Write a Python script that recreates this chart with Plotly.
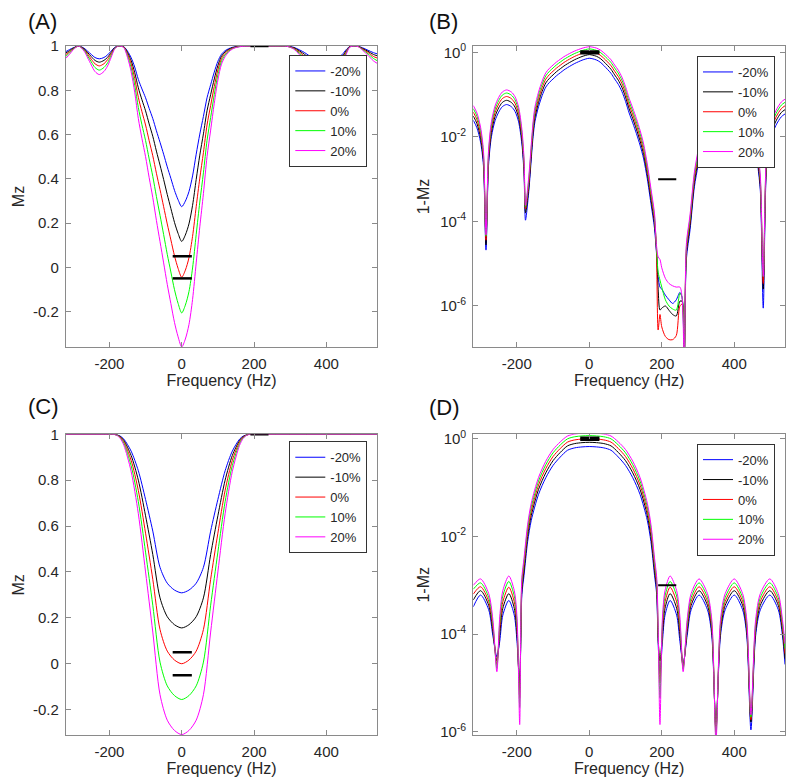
import plotly.graph_objects as go

# ---------------- shared ----------------
series_labels = ["-20%", "-10%", "0%", "10%", "20%"]
series_colors = ["#0000ff", "#000000", "#ff0000", "#00ff00", "#ff00ff"]
x_ticks = [-200, 0, 200, 400]
x_tick_text = ["-200", "0", "200", "400"]
mz_ticks = [-0.2, 0, 0.2, 0.4, 0.6, 0.8, 1]
mz_tick_text = ["-0.2", "0", "0.2", "0.4", "0.6", "0.8", "1"]
log_ticks = [1, 1e-2, 1e-4, 1e-6]
log_tick_text = ["10<sup>0</sup>", "10<sup>-2</sup>", "10<sup>-4</sup>", "10<sup>-6</sup>"]

# ---------------- Panel A : Mz ----------------
freq_a = [-320, -310, -300, -285, -270, -260, -250, -240, -228, -215,
          -205, -195, -186, -176, -168, -160, -150, -140, -130, -120,
          -110, -100, -90, -80, -70, -60, -50, -40, -30, -20,
          -10, 0, 10, 20, 30, 40, 50, 60, 70, 80,
          90, 100, 110, 120, 130, 140, 150, 170, 200, 262,
          290, 310, 340, 360, 385, 410, 430, 443, 455, 465,
          480, 489, 500, 515, 530, 540]
mz_a_m20 = [0.975, 0.984, 0.992, 1.0, 0.990, 0.976, 0.962, 0.948, 0.942, 0.948,
            0.960, 0.977, 0.993, 1.0, 1.0, 0.997, 0.977, 0.948, 0.905, 0.849,
            0.806, 0.766, 0.718, 0.672, 0.617, 0.565, 0.511, 0.454, 0.402, 0.348,
            0.305, 0.274, 0.299, 0.342, 0.413, 0.511, 0.602, 0.682, 0.766, 0.825,
            0.882, 0.931, 0.963, 0.979, 0.988, 0.994, 0.997, 1.0, 1.0, 1.0,
            0.999, 0.994, 0.970, 0.948, 0.931, 0.931, 0.944, 0.960, 0.984, 0.998,
            1.0, 0.998, 0.992, 0.981, 0.970, 0.965]
mz_a_m10 = [0.969, 0.979, 0.990, 1.0, 0.987, 0.970, 0.952, 0.935, 0.927, 0.935,
            0.949, 0.971, 0.991, 1.0, 0.999, 0.996, 0.971, 0.935, 0.880, 0.811,
            0.757, 0.707, 0.648, 0.592, 0.525, 0.462, 0.397, 0.329, 0.266, 0.203,
            0.153, 0.117, 0.146, 0.196, 0.280, 0.397, 0.507, 0.603, 0.707, 0.780,
            0.851, 0.912, 0.954, 0.973, 0.985, 0.992, 0.996, 1.0, 1.0, 1.0,
            0.999, 0.992, 0.962, 0.935, 0.912, 0.912, 0.929, 0.949, 0.979, 0.997,
            1.0, 0.998, 0.989, 0.976, 0.962, 0.956]
mz_a_0 = [0.962, 0.974, 0.988, 1.0, 0.984, 0.963, 0.940, 0.920, 0.910, 0.920,
          0.938, 0.965, 0.989, 1.0, 0.999, 0.995, 0.965, 0.920, 0.853, 0.768,
          0.703, 0.643, 0.572, 0.504, 0.425, 0.351, 0.274, 0.196, 0.124, 0.052,
          -0.005, -0.045, -0.013, 0.043, 0.140, 0.274, 0.403, 0.518, 0.643, 0.731,
          0.817, 0.892, 0.943, 0.967, 0.981, 0.990, 0.995, 1.0, 1.0, 1.0,
          0.999, 0.990, 0.953, 0.920, 0.892, 0.892, 0.913, 0.938, 0.974, 0.997,
          1.0, 0.997, 0.987, 0.971, 0.953, 0.946]
mz_a_p10 = [0.954, 0.969, 0.986, 1.0, 0.981, 0.955, 0.928, 0.903, 0.891, 0.903,
            0.924, 0.957, 0.987, 1.0, 0.999, 0.994, 0.957, 0.903, 0.823, 0.722,
            0.644, 0.573, 0.490, 0.411, 0.320, 0.235, 0.148, 0.059, -0.021, -0.101,
            -0.163, -0.206, -0.171, -0.110, -0.003, 0.148, 0.295, 0.427, 0.573, 0.677,
            0.780, 0.870, 0.931, 0.960, 0.977, 0.988, 0.994, 1.0, 1.0, 1.0,
            0.999, 0.988, 0.944, 0.903, 0.870, 0.870, 0.895, 0.924, 0.969, 0.996,
            1.0, 0.997, 0.984, 0.965, 0.944, 0.934]
mz_a_p20 = [0.945, 0.963, 0.983, 1.0, 0.977, 0.946, 0.914, 0.885, 0.871, 0.885,
            0.910, 0.949, 0.985, 1.0, 0.999, 0.993, 0.949, 0.885, 0.791, 0.672,
            0.582, 0.500, 0.405, 0.315, 0.212, 0.116, 0.020, -0.077, -0.164, -0.249,
            -0.314, -0.360, -0.324, -0.259, -0.145, 0.020, 0.183, 0.333, 0.500, 0.620,
            0.741, 0.846, 0.918, 0.952, 0.973, 0.986, 0.993, 0.999, 1.0, 1.0,
            0.999, 0.986, 0.933, 0.885, 0.846, 0.846, 0.876, 0.910, 0.963, 0.995,
            1.0, 0.996, 0.981, 0.958, 0.933, 0.922]

# ---------------- Panel B : 1-Mz (log) ----------------
freq_b = [-320, -310, -300, -292, -285, -278, -270, -260, -250, -240,
          -228, -215, -205, -195, -186, -180, -176, -168, -164, -160,
          -155, -150, -140, -130, -120, -110, -100, -90, -80, -70,
          -60, -50, -40, -30, -20, -10, 0, 10, 20, 30,
          40, 50, 60, 70, 80, 90, 100, 110, 120, 130,
          140, 150, 160, 170, 180, 185, 190, 195, 200, 210,
          220, 230, 240, 250, 256, 262, 268, 278, 290, 300,
          310, 320, 340, 360, 385, 410, 430, 443, 455, 465,
          472, 480, 489, 500, 515, 530, 540]
omz_b_m20 = [0.0247, 0.0164, 7.55e-3, 2.09e-3, 2.1e-5, 2.09e-3, 1.01e-2, 0.0241, 0.0384, 0.0518,
             0.0582, 0.0518, 0.0402, 0.0227, 6.78e-3, 1.34e-3, 1.07e-4, 4.05e-4, 1.03e-3, 3.01e-3,
             1.01e-2, 0.0227, 0.0518, 0.0951, 0.1507, 0.1942, 0.2341, 0.2818, 0.328, 0.3827,
             0.4347, 0.489, 0.5458, 0.5984, 0.6523, 0.6951, 0.726, 0.7013, 0.6583, 0.5866,
             0.489, 0.3978, 0.3185, 0.2341, 0.1755, 0.1184, 0.0695, 0.0367, 0.0214, 0.01203,
             6.40e-3, 3.01e-3, 1.03e-3, 2.71e-4, 6.8e-5, 2.0e-5, 5.0e-6, 2.8e-6, 2.5e-6, 1.8e-6,
             1.4e-6, 1.15e-6, 1.4e-6, 2.1e-6, 1.6e-6, 5e-8, 1.3e-5, 6.3e-5, 6.6e-4, 2.09e-3,
             6.40e-3, 0.01203, 0.0300, 0.0518, 0.0695, 0.0695, 0.0560, 0.0402, 0.0164, 2.09e-3,
             5.2e-4, 8.9e-7, 1.77e-3, 8.36e-3, 0.0188, 0.0300, 0.0349]
omz_b_m10 = [0.0311, 0.0207, 9.53e-3, 2.64e-3, 2.8e-5, 2.64e-3, 1.28e-2, 0.0304, 0.0485, 0.0653,
             0.0733, 0.0653, 0.0507, 0.0286, 8.56e-3, 1.69e-3, 1.6e-4, 5.12e-4, 1.30e-3, 3.80e-3,
             1.28e-2, 0.0286, 0.0653, 0.1197, 0.1892, 0.2431, 0.2927, 0.3516, 0.4084, 0.4747,
             0.5379, 0.6035, 0.6713, 0.7336, 0.7972, 0.8473, 0.8833, 0.8544, 0.8044, 0.7197,
             0.6035, 0.4934, 0.3968, 0.2927, 0.2200, 0.1488, 0.0876, 0.0462, 0.0270, 0.01519,
             8.09e-3, 3.80e-3, 1.30e-3, 3.42e-4, 8.6e-5, 2.4e-5, 2.5e-6, 8.0e-7, 8.9e-7, 1.0e-6,
             7.9e-7, 6.3e-7, 5.8e-7, 1.3e-6, 1.3e-6, 5e-8, 1.7e-5, 8.0e-5, 8.3e-4, 2.64e-3,
             8.09e-3, 0.01519, 0.0379, 0.0653, 0.0876, 0.0876, 0.0706, 0.0507, 0.0207, 2.64e-3,
             6.6e-4, 2.5e-6, 2.23e-3, 1.06e-2, 0.0237, 0.0379, 0.0441]
omz_b_0 = [0.0384, 0.0256, 1.18e-2, 3.27e-3, 3.6e-5, 3.27e-3, 1.58e-2, 0.0375, 0.0598, 0.0805,
           0.0903, 0.0805, 0.0625, 0.0354, 1.06e-2, 2.09e-3, 2.0e-4, 6.32e-4, 1.60e-3, 4.70e-3,
           1.58e-2, 0.0354, 0.0805, 0.1472, 0.2319, 0.2974, 0.3572, 0.4276, 0.4959, 0.5746,
           0.649, 0.7258, 0.8042, 0.876, 0.9484, 1.0051, 1.0454, 1.0131, 0.9566, 0.86,
           0.7258, 0.5967, 0.482, 0.3572, 0.2694, 0.1828, 0.1078, 0.0571, 0.0333, 0.01874,
           9.99e-3, 4.70e-3, 1.60e-3, 4.23e-4, 1.06e-4, 2.6e-5, 2.7e-7, 6.3e-7, 3.2e-7, 1.9e-7,
           1.6e-7, 1.6e-7, 2.0e-7, 1.0e-6, 1.1e-6, 5e-8, 2.1e-5, 9.9e-5, 1.02e-3, 3.27e-3,
           9.99e-3, 0.01874, 0.0468, 0.0805, 0.1078, 0.1078, 0.0870, 0.0625, 0.0256, 3.27e-3,
           8.2e-4, 3.4e-6, 2.77e-3, 1.31e-2, 0.0292, 0.0468, 0.0544]
omz_b_p10 = [0.0464, 0.0310, 1.43e-2, 3.95e-3, 4.5e-5, 3.95e-3, 1.91e-2, 0.0453, 0.0722, 0.0973,
             0.109, 0.0973, 0.0756, 0.0427, 1.28e-2, 2.53e-3, 2.2e-4, 7.66e-4, 1.94e-3, 5.69e-3,
             1.91e-2, 0.0427, 0.0973, 0.1773, 0.2785, 0.3561, 0.4267, 0.5096, 0.5889, 0.6799,
             0.7654, 0.8525, 0.941, 1.0209, 1.1009, 1.1625, 1.2062, 1.1712, 1.1097, 1.0031,
             0.8525, 0.7053, 0.5728, 0.4267, 0.3232, 0.2199, 0.1301, 0.0689, 0.0402, 0.0227,
             1.21e-2, 5.69e-3, 1.94e-3, 5.12e-4, 1.28e-4, 2.8e-5, 6.3e-6, 4.1e-6, 2.8e-6, 1.4e-6,
             1.0e-6, 8.5e-7, 8.0e-7, 2.0e-6, 1.6e-6, 5e-8, 2.5e-5, 1.2e-4, 1.24e-3, 3.95e-3,
             1.21e-2, 0.0227, 0.0565, 0.0973, 0.1301, 0.1301, 0.105, 0.0756, 0.031, 3.95e-3,
             9.9e-4, 5.0e-6, 3.34e-3, 1.58e-2, 0.0354, 0.0565, 0.0657]
omz_b_p20 = [0.0551, 0.0368, 1.70e-2, 4.70e-3, 4.8e-5, 4.70e-3, 2.27e-2, 0.0539, 0.0857, 0.1152,
             0.1291, 0.1152, 0.0896, 0.0507, 1.52e-2, 3.01e-3, 2.4e-4, 9.1e-4, 2.30e-3, 6.77e-3,
             2.27e-2, 0.0507, 0.1152, 0.2094, 0.3277, 0.4184, 0.4999, 0.5949, 0.6853, 0.7882,
             0.8838, 0.9805, 1.0774, 1.1638, 1.2492, 1.3143, 1.36, 1.3235, 1.2587, 1.1447,
             0.9805, 0.8167, 0.667, 0.4999, 0.3798, 0.2595, 0.154, 0.0818, 0.0478, 0.027,
             1.44e-2, 6.77e-3, 2.30e-3, 6.09e-4, 1.52e-4, 3.0e-5, 1.45e-5, 1.26e-5, 8.0e-6, 4.5e-6,
             3.4e-6, 3.0e-6, 2.8e-6, 2.8e-6, 1.6e-6, 5e-8, 3.0e-5, 1.43e-4, 1.47e-3, 4.70e-3,
             1.44e-2, 0.027, 0.0671, 0.1152, 0.154, 0.154, 0.1245, 0.0896, 0.0368, 4.70e-3,
             1.18e-3, 5.0e-6, 3.98e-3, 1.88e-2, 0.042, 0.0671, 0.078]

# ---------------- Panel C : Mz ----------------
freq_c = [-320, -200, -190, -180, -170, -160, -140, -120, -100, -80,
          -60, -40, -20, 0, 20, 40, 60, 80, 100, 120,
          140, 160, 170, 180, 190, 200, 540]
mz_c_m20 = [1.0, 1.0, 1.0, 0.998, 0.992, 0.979, 0.927, 0.841, 0.716, 0.578,
            0.420, 0.351, 0.321, 0.309, 0.321, 0.351, 0.420, 0.578, 0.716, 0.841,
            0.927, 0.979, 0.992, 0.998, 1.0, 1.0, 1.0]
mz_c_m10 = [1.0, 1.0, 1.0, 0.998, 0.990, 0.973, 0.908, 0.800, 0.645, 0.476,
            0.287, 0.205, 0.170, 0.156, 0.170, 0.205, 0.287, 0.476, 0.645, 0.800,
            0.908, 0.973, 0.990, 0.998, 1.0, 1.0, 1.0]
mz_c_0 = [1.0, 1.0, 1.0, 0.9975, 0.988, 0.967, 0.887, 0.755, 0.569, 0.368,
          0.149, 0.055, 0.016, 0.0, 0.016, 0.055, 0.149, 0.368, 0.569, 0.755,
          0.887, 0.967, 0.988, 0.9975, 1.0, 1.0, 1.0]
mz_c_p10 = [1.0, 1.0, 1.0, 0.997, 0.985, 0.960, 0.864, 0.7065, 0.4865, 0.255,
            0.007, -0.0965, -0.139, -0.156, -0.139, -0.0965, 0.007, 0.255, 0.4865, 0.7065,
            0.864, 0.960, 0.985, 0.997, 1.0, 1.0, 1.0]
mz_c_p20 = [1.0, 1.0, 1.0, 0.996, 0.982, 0.952, 0.839, 0.654, 0.400, 0.138,
            -0.135, -0.246, -0.291, -0.309, -0.291, -0.246, -0.135, 0.138, 0.400, 0.654,
            0.839, 0.952, 0.982, 0.996, 1.0, 1.0, 1.0]

# ---------------- Panel D : 1-Mz (log) ----------------
freq_d = [-320, -300, -277.5, -266, -255, -247, -238.5, -222, -207, -199.5,
          -192, -189, -186, -180, -170, -160, -140, -120, -100, -80,
          -60, -40, -20, 0, 20, 40, 60, 80, 100, 120,
          140, 160, 170, 180, 186, 190, 195, 202, 209, 223,
          241, 250, 259, 270, 281, 303, 326, 338, 349.5, 362,
          375, 400, 423, 434.5, 446, 459, 472, 498, 521.5, 533,
          540]
omz_d_m20 = [3.63e-4, 6.31e-4, 3.16e-4, 9.23e-5, 3.47e-5, 7.16e-5, 2.45e-4, 4.90e-4, 2.45e-4, 7.16e-5,
             1.0e-5, 6.4e-5, 6.4e-4, 1.6e-3, 7.88e-3, 0.0214, 0.0726, 0.159, 0.284, 0.4224,
             0.580, 0.6495, 0.679, 0.691, 0.679, 0.6495, 0.580, 0.4224, 0.284, 0.159,
             0.0726, 0.0214, 7.88e-3, 1.6e-3, 6.4e-4, 6.4e-5, 1.58e-5, 7.16e-5, 2.45e-4, 4.90e-4,
             2.45e-4, 7.16e-5, 2.51e-5, 9.23e-5, 3.16e-4, 6.31e-4, 3.16e-4, 9.23e-5, 1.26e-6, 9.23e-5,
             3.16e-4, 6.31e-4, 3.16e-4, 9.23e-5, 1.10e-6, 9.23e-5, 3.16e-4, 6.31e-4, 3.16e-4, 9.23e-5,
             2.40e-5]
omz_d_m10 = [5.01e-4, 7.76e-4, 3.89e-4, 1.14e-4, 2.82e-5, 9.89e-5, 3.39e-4, 6.76e-4, 3.39e-4, 9.89e-5,
             7.08e-6, 8.1e-5, 8.1e-4, 2.02e-3, 9.98e-3, 0.0271, 0.0916, 0.200, 0.355, 0.524,
             0.713, 0.795, 0.830, 0.844, 0.830, 0.795, 0.713, 0.524, 0.355, 0.200,
             0.0916, 0.0271, 9.98e-3, 2.02e-3, 8.1e-4, 8.1e-5, 2.82e-5, 9.89e-5, 3.39e-4, 6.76e-4,
             3.39e-4, 9.89e-5, 2.24e-5, 1.14e-4, 3.89e-4, 7.76e-4, 3.89e-4, 1.14e-4, 1.12e-6, 1.14e-4,
             3.89e-4, 7.76e-4, 3.89e-4, 1.14e-4, 1.58e-6, 1.14e-4, 3.89e-4, 7.76e-4, 3.89e-4, 1.14e-4,
             3.16e-5]
omz_d_0 = [6.61e-4, 9.33e-4, 4.68e-4, 1.36e-4, 2.40e-5, 1.33e-4, 4.57e-4, 9.12e-4, 4.57e-4, 1.33e-4,
           5.01e-6, 1.0e-4, 1.0e-3, 2.5e-3, 1.23e-2, 0.0334, 0.1126, 0.245, 0.431, 0.632,
           0.851, 0.945, 0.984, 1.0, 0.984, 0.945, 0.851, 0.632, 0.431, 0.245,
           0.1126, 0.0334, 1.23e-2, 2.5e-3, 1.0e-3, 1.0e-4, 1.0e-5, 1.33e-4, 4.57e-4, 9.12e-4,
           4.57e-4, 1.33e-4, 2.09e-5, 1.36e-4, 4.68e-4, 9.33e-4, 4.68e-4, 1.36e-4, 1.0e-6, 1.36e-4,
           4.68e-4, 9.33e-4, 4.68e-4, 1.36e-4, 1.78e-6, 1.36e-4, 4.68e-4, 9.33e-4, 4.68e-4, 1.36e-4,
           3.98e-5]
omz_d_p10 = [8.32e-4, 1.12e-3, 5.62e-4, 1.64e-4, 2.0e-5, 1.76e-4, 6.03e-4, 1.20e-3, 6.03e-4, 1.76e-4,
             3.16e-6, 1.21e-4, 1.21e-3, 3.02e-3, 1.49e-2, 0.0404, 0.1357, 0.2935, 0.5135, 0.745,
             0.993, 1.0965, 1.139, 1.156, 1.139, 1.0965, 0.993, 0.745, 0.5135, 0.2935,
             0.1357, 0.0404, 1.49e-2, 3.02e-3, 1.21e-3, 1.21e-4, 5.01e-6, 1.76e-4, 6.03e-4, 1.20e-3,
             6.03e-4, 1.76e-4, 1.91e-5, 1.64e-4, 5.62e-4, 1.12e-3, 5.62e-4, 1.64e-4, 7.9e-7, 1.64e-4,
             5.62e-4, 1.12e-3, 5.62e-4, 1.64e-4, 2.0e-6, 1.64e-4, 5.62e-4, 1.12e-3, 5.62e-4, 1.64e-4,
             5.01e-5]
omz_d_p20 = [1.0e-3, 1.35e-3, 6.76e-4, 1.97e-4, 1.70e-5, 2.26e-4, 7.76e-4, 1.55e-3, 7.76e-4, 2.26e-4,
             1.41e-6, 1.44e-4, 1.44e-3, 3.6e-3, 1.77e-2, 0.048, 0.1607, 0.346, 0.600, 0.862,
             1.135, 1.2456, 1.291, 1.309, 1.291, 1.2456, 1.135, 0.862, 0.600, 0.346,
             0.1607, 0.048, 1.77e-2, 3.6e-3, 1.44e-3, 1.44e-4, 1.41e-6, 2.26e-4, 7.76e-4, 1.55e-3,
             7.76e-4, 2.26e-4, 1.70e-5, 1.97e-4, 6.76e-4, 1.35e-3, 6.76e-4, 1.97e-4, 6.3e-7, 1.97e-4,
             6.76e-4, 1.35e-3, 6.76e-4, 1.97e-4, 2.24e-6, 1.97e-4, 6.76e-4, 1.35e-3, 6.76e-4, 1.97e-4,
             6.31e-5]

# ---------------- target bands (black bars) ----------------
band_center_x = [-25, 28]
band_mz_hi = 0.05
band_mz_lo = -0.05
band_omz_hi = 1.05
band_omz_lo = 0.95
band_stop_x = [190, 240]
band_stop_mz = 1.0
band_stop_omz = 1e-3

panels = [
    dict(x=freq_a, ys=[mz_a_m20, mz_a_m10, mz_a_0, mz_a_p10, mz_a_p20], ax="", leg="legend", log=False),
    dict(x=freq_b, ys=[omz_b_m20, omz_b_m10, omz_b_0, omz_b_p10, omz_b_p20], ax="2", leg="legend2", log=True),
    dict(x=freq_c, ys=[mz_c_m20, mz_c_m10, mz_c_0, mz_c_p10, mz_c_p20], ax="3", leg="legend3", log=False),
    dict(x=freq_d, ys=[omz_d_m20, omz_d_m10, omz_d_0, omz_d_p10, omz_d_p20], ax="4", leg="legend4", log=True),
]

fig = go.Figure()
for p in panels:
    for ys, lab, col in zip(p["ys"], series_labels, series_colors):
        assert len(ys) == len(p["x"])
        fig.add_trace(go.Scatter(
            x=p["x"], y=ys, mode="lines", name=lab,
            line=dict(color=col, width=1, shape="spline", smoothing=0.8),
            xaxis="x" + p["ax"], yaxis="y" + p["ax"], legend=p["leg"], showlegend=True))
    if p["log"]:
        bands = [(band_center_x, [band_omz_hi] * 2, 2.5), (band_center_x, [band_omz_lo] * 2, 2.5),
                 (band_stop_x, [band_stop_omz] * 2, 2)]
    else:
        bands = [(band_center_x, [band_mz_hi] * 2, 2.5), (band_center_x, [band_mz_lo] * 2, 2.5),
                 (band_stop_x, [band_stop_mz] * 2, 2.5)]
    for bx, by, bw in bands:
        fig.add_trace(go.Scatter(x=bx, y=by, mode="lines", line=dict(color="black", width=bw),
                                 xaxis="x" + p["ax"], yaxis="y" + p["ax"], showlegend=False,
                                 hoverinfo="skip"))

FONT = "Liberation Sans, Arial, Helvetica, sans-serif"
AX_C = "#8a8a8a"
TXT_C = "#262626"

left_dom = [66 / 800, 377 / 800]
right_dom = [473.3 / 800, 785 / 800]
top_dom = [1 - 347 / 784, 1 - 46 / 784]
bot_dom = [1 - 735.3 / 784, 1 - 434.3 / 784]


def xaxis(domain, anchor):
    return dict(domain=domain, anchor=anchor, range=[-320, 540], tickmode="array",
                tickvals=x_ticks, ticktext=x_tick_text, ticks="inside", ticklen=5,
                tickcolor=AX_C, showline=True, linecolor=AX_C, linewidth=1.2, mirror="ticks",
                showgrid=False, zeroline=False, ticklabelstandoff=3, automargin=False,
                tickfont=dict(family=FONT, size=15, color=TXT_C),
                title=dict(text="Frequency (Hz)", font=dict(family=FONT, size=16, color=TXT_C), standoff=0))


def yaxis_lin(domain, anchor, rng):
    return dict(domain=domain, anchor=anchor, range=rng, tickmode="array",
                tickvals=mz_ticks, ticktext=mz_tick_text, ticks="inside", ticklen=5,
                tickcolor=AX_C, showline=True, linecolor=AX_C, linewidth=1.2, mirror="ticks",
                showgrid=False, zeroline=False, ticklabelstandoff=3, automargin=False,
                tickfont=dict(family=FONT, size=15, color=TXT_C),
                title=dict(text="Mz", font=dict(family=FONT, size=16, color=TXT_C), standoff=4))


def yaxis_log(domain, anchor, rng):
    return dict(domain=domain, anchor=anchor, type="log", range=rng, tickmode="array",
                tickvals=log_ticks, ticktext=log_tick_text, ticks="inside", ticklen=5,
                tickcolor=AX_C, showline=True, linecolor=AX_C, linewidth=1.2, mirror="ticks",
                showgrid=False, zeroline=False, ticklabelstandoff=3, automargin=False,
                tickfont=dict(family=FONT, size=15, color=TXT_C),
                title=dict(text="1-Mz", font=dict(family=FONT, size=16, color=TXT_C), standoff=6))


def legend(xr, yt):
    return dict(x=xr, y=yt, xanchor="right", yanchor="top", xref="paper", yref="paper",
                bgcolor="white", bordercolor="#333333", borderwidth=1,
                font=dict(family=FONT, size=13, color=TXT_C), itemwidth=30, tracegroupgap=0)


labels = [("(A)", 42, 22), ("(B)", 443, 22), ("(C)", 43, 406), ("(D)", 444, 407)]

fig.update_layout(
    width=800, height=784, margin=dict(l=0, r=0, t=0, b=0, pad=0, autoexpand=False),
    paper_bgcolor="white", plot_bgcolor="white",
    font=dict(family=FONT, color=TXT_C),
    xaxis=xaxis(left_dom, "y"), yaxis=yaxis_lin(top_dom, "x", [-0.36, 1.0]),
    xaxis2=xaxis(right_dom, "y2"), yaxis2=yaxis_log(top_dom, "x2", [-6.97, 0.15]),
    xaxis3=xaxis(left_dom, "y3"), yaxis3=yaxis_lin(bot_dom, "x3", [-0.312, 1.0]),
    xaxis4=xaxis(right_dom, "y4"), yaxis4=yaxis_log(bot_dom, "x4", [-6.07, 0.09]),
    legend=legend(367.3 / 800, 1 - 55 / 784),
    legend2=legend(775 / 800, 1 - 56 / 784),
    legend3=legend(367.3 / 800, 1 - 441.3 / 784),
    legend4=legend(775 / 800, 1 - 443.7 / 784),
    annotations=[dict(text=t, x=x / 800, y=1 - y / 784, xref="paper", yref="paper",
                      xanchor="center", yanchor="middle", showarrow=False,
                      font=dict(family=FONT, size=22, color="#111111")) for t, x, y in labels],
    showlegend=True,
)

fig.write_html("out.html", config={"displayModeBar": False},
               post_script="document.body.style.margin='0px';")
